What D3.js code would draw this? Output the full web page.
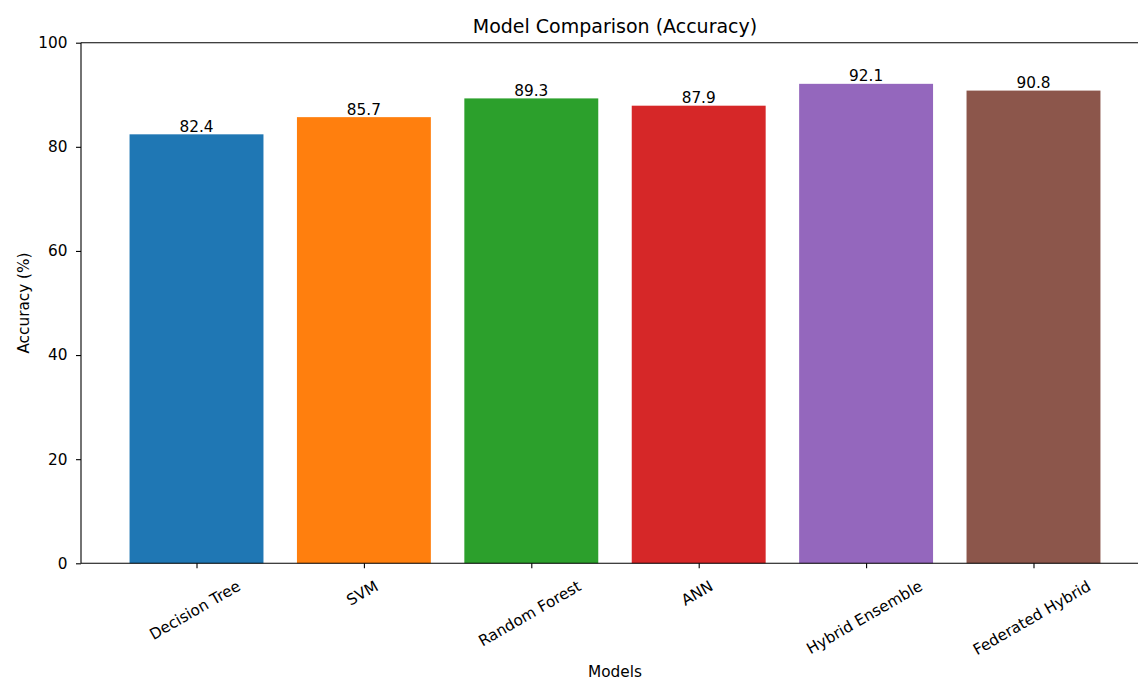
<!DOCTYPE html>
<html>
<head>
<meta charset="utf-8">
<script src="https://cdn.jsdelivr.net/npm/d3@7"></script>
<style>
  html, body { margin: 0; padding: 0; background: #fff; }
  svg { display: block; }
  text { font-family: "DejaVu Sans", sans-serif; fill: #000; }
</style>
</head>
<body>
<svg id="chart" width="1138" height="679"></svg>
<script>
// Accuracy per model
const models = ["Decision Tree", "SVM", "Random Forest", "ANN", "Hybrid Ensemble", "Federated Hybrid"];
const accuracy = [82.4, 85.7, 89.3, 87.9, 92.1, 90.8];
const barColors = ["#1f77b4", "#ff7f0e", "#2ca02c", "#d62728", "#9467bd", "#8c564b"];
const yTicks = [0, 20, 40, 60, 80, 100];

const plot = { left: 81, right: 1149, top: 42.7, bottom: 563.3 };
const barWidth = 0.8;
const fontSize = 15.3;
const titleSize = 19;

const svg = d3.select("#chart");

// Index-based x scale with a 5% margin on each side, like a category bar plot
const n = models.length;
const span = (n - 1) + barWidth;
const pad = span * 0.05;
const x = d3.scaleLinear()
  .domain([-barWidth / 2 - pad, (n - 1) + barWidth / 2 + pad])
  .range([plot.left, plot.right]);
const y = d3.scaleLinear().domain([0, 100]).range([plot.bottom, plot.top]);

// Bars
svg.append("g").selectAll("rect")
  .data(accuracy)
  .join("rect")
  .attr("x", (d, i) => x(i - barWidth / 2))
  .attr("width", (d, i) => x(i + barWidth / 2) - x(i - barWidth / 2))
  .attr("y", d => y(d))
  .attr("height", d => y(0) - y(d))
  .attr("fill", (d, i) => barColors[i]);

// Value labels on top of each bar
svg.append("g").selectAll("text")
  .data(accuracy)
  .join("text")
  .attr("x", (d, i) => x(i))
  .attr("y", d => y(d) - 2.6)
  .attr("text-anchor", "middle")
  .attr("font-size", fontSize)
  .text(d => d.toFixed(1));

// Y axis
const yAxis = d3.axisLeft(y).tickValues(yTicks).tickSize(5).tickPadding(8.5).tickFormat(d3.format("d"));
const gy = svg.append("g").attr("transform", `translate(${plot.left},0)`).call(yAxis);
gy.select(".domain").remove();
gy.selectAll(".tick line").attr("stroke", "#000").attr("stroke-width", 1.1);
gy.selectAll(".tick text").attr("font-size", fontSize).attr("font-family", "DejaVu Sans, sans-serif").attr("fill", "#000");

// X axis ticks
const xAxis = d3.axisBottom(x).tickValues(d3.range(n)).tickSize(5).tickFormat("");
const gx = svg.append("g").attr("transform", `translate(0,${plot.bottom})`).call(xAxis);
gx.select(".domain").remove();
gx.selectAll(".tick line").attr("stroke", "#000").attr("stroke-width", 1.1);

// Rotated category labels, tops aligned just below the ticks
const labelTop = 578;
const angle = 30 * Math.PI / 180;
const lineH = fontSize * 1.05;
const lbl = svg.append("g").selectAll("text")
  .data(models)
  .join("text")
  .attr("font-size", fontSize)
  .attr("text-anchor", "middle")
  .attr("dominant-baseline", "central")
  .text(d => d);
lbl.each(function(d, i) {
  const w = this.getComputedTextLength();
  const bh = w * Math.sin(angle) + lineH * Math.cos(angle);
  const cx = x(i) - 1.5, cy = labelTop + bh / 2;
  d3.select(this).attr("x", cx).attr("y", cy)
    .attr("transform", `rotate(-30,${cx},${cy})`);
});

// Spines
const spine = svg.append("g").attr("stroke", "#000").attr("stroke-width", 1.1).attr("fill", "none");
spine.append("line").attr("x1", plot.left).attr("x2", plot.left).attr("y1", plot.top).attr("y2", plot.bottom);
spine.append("line").attr("x1", plot.left).attr("x2", plot.right).attr("y1", plot.top).attr("y2", plot.top);
spine.append("line").attr("x1", plot.left).attr("x2", plot.right).attr("y1", plot.bottom).attr("y2", plot.bottom);
spine.append("line").attr("x1", plot.right).attr("x2", plot.right).attr("y1", plot.top).attr("y2", plot.bottom);

// Title and axis labels
svg.append("text")
  .attr("x", (plot.left + plot.right) / 2)
  .attr("y", 33)
  .attr("text-anchor", "middle")
  .attr("font-size", titleSize)
  .text("Model Comparison (Accuracy)");

svg.append("text")
  .attr("x", (plot.left + plot.right) / 2)
  .attr("y", 676.5)
  .attr("text-anchor", "middle")
  .attr("font-size", fontSize)
  .text("Models");

svg.append("text")
  .attr("transform", `translate(28.5,${(plot.top + plot.bottom) / 2}) rotate(-90)`)
  .attr("text-anchor", "middle")
  .attr("font-size", fontSize)
  .text("Accuracy (%)");
</script>
</body>
</html>
